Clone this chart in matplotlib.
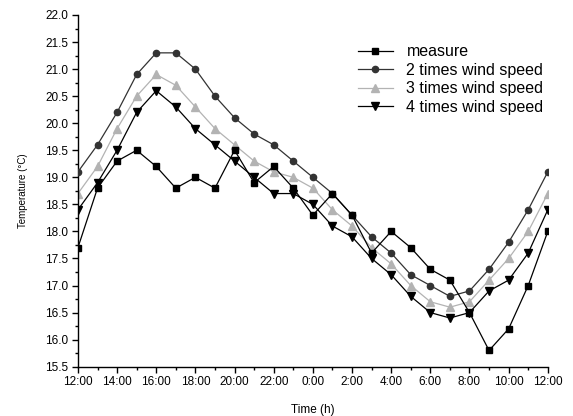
import matplotlib
matplotlib.use("Agg")
import matplotlib.pyplot as plt
from matplotlib.ticker import MultipleLocator, FixedLocator, FixedFormatter

hours = list(range(25))
tick_hours = list(range(0, 25, 2))
tick_labels = ["12:00", "14:00", "16:00", "18:00", "20:00", "22:00", "0:00",
               "2:00", "4:00", "6:00", "8:00", "10:00", "12:00"]

measure = [17.7, 18.8, 19.3, 19.5, 19.2, 18.8, 19.0, 18.8, 19.5, 18.9, 19.2, 18.8,
           18.3, 18.7, 18.3, 17.6, 18.0, 17.7, 17.3, 17.1, 16.5, 15.8, 16.2, 17.0, 18.0]
wind2 = [19.1, 19.6, 20.2, 20.9, 21.3, 21.3, 21.0, 20.5, 20.1, 19.8, 19.6, 19.3,
         19.0, 18.7, 18.3, 17.9, 17.6, 17.2, 17.0, 16.8, 16.9, 17.3, 17.8, 18.4, 19.1]
wind3 = [18.7, 19.2, 19.9, 20.5, 20.9, 20.7, 20.3, 19.9, 19.6, 19.3, 19.1, 19.0,
         18.8, 18.4, 18.1, 17.7, 17.4, 17.0, 16.7, 16.6, 16.7, 17.1, 17.5, 18.0, 18.7]
wind4 = [18.4, 18.9, 19.5, 20.2, 20.6, 20.3, 19.9, 19.6, 19.3, 19.0, 18.7, 18.7,
         18.5, 18.1, 17.9, 17.5, 17.2, 16.8, 16.5, 16.4, 16.5, 16.9, 17.1, 17.6, 18.4]

labels = ["measure", "2 times wind speed", "3 times wind speed", "4 times wind speed"]

plt.rcParams['font.family'] = ['Liberation Sans', 'DejaVu Sans']

fig = plt.figure(figsize=(5.73, 4.16), dpi=100)
ax = fig.add_axes([0.136, 0.1185, 0.82, 0.8455])

ax.plot(hours, measure, color='black', lw=0.9, marker='s', ms=5, mfc='black', mec='black', label=labels[0], zorder=5)
ax.plot(hours, wind2, color='#333333', lw=0.9, marker='o', ms=4.5, mfc='#333333', mec='#333333', label=labels[1], zorder=3)
ax.plot(hours, wind3, color='#b3b3b3', lw=0.9, marker='^', ms=6, mfc='#b3b3b3', mec='#b3b3b3', label=labels[2], zorder=2)
ax.plot(hours, wind4, color='black', lw=0.9, marker='v', ms=6, mfc='black', mec='black', label=labels[3], zorder=4)

ax.set_xlim(0, 24)
ax.set_ylim(15.5, 22.0)
ax.xaxis.set_major_locator(FixedLocator(tick_hours))
ax.xaxis.set_major_formatter(FixedFormatter(tick_labels))
ax.xaxis.set_minor_locator(MultipleLocator(1))
ax.yaxis.set_major_locator(MultipleLocator(0.5))
ax.yaxis.set_minor_locator(MultipleLocator(0.25))
ax.yaxis.set_major_formatter(matplotlib.ticker.FormatStrFormatter('%.1f'))

for s in ['top', 'right']:
    ax.spines[s].set_visible(False)
for s in ['left', 'bottom']:
    ax.spines[s].set_linewidth(1.0)

ax.tick_params(which='major', direction='out', length=4, width=1, labelsize=8.5, pad=3)
ax.tick_params(which='minor', direction='out', length=2.5, width=1)

ax.set_xlabel("Time (h)", fontsize=8.5, labelpad=11)
ax.set_ylabel("Temperature (°C)", fontsize=7, labelpad=12)

leg = ax.legend(loc='upper left', bbox_to_anchor=(0.582, 0.935), frameon=False,
                fontsize=11.5, labelspacing=0.22, handlelength=2.2, handletextpad=0.85,
                borderaxespad=0)

fig.savefig("out.png", dpi=100)
